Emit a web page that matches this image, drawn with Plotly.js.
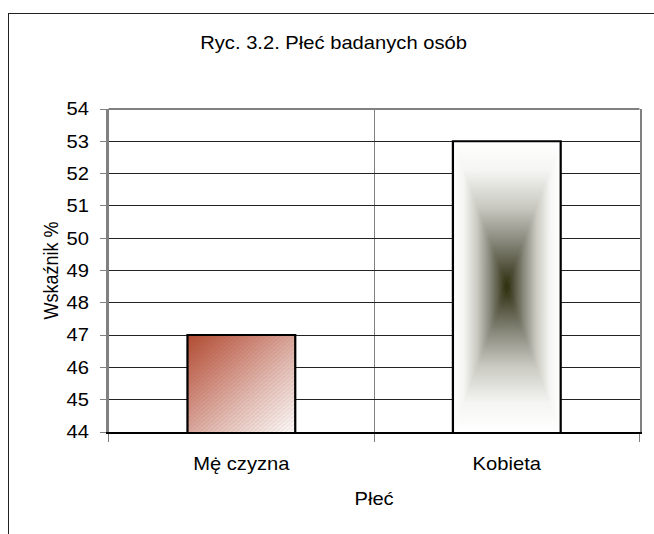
<!DOCTYPE html>
<html>
<head>
<meta charset="utf-8">
<script src="https://cdn.plot.ly/plotly-3.0.1.min.js"></script>
<style>
  html, body { margin:0; padding:0; width:654px; height:534px; overflow:hidden; background:#fff; }
  #wrap { position:absolute; left:0; top:0; width:584px; height:534px; transform:scaleX(1.12); transform-origin:0 0; }
  #frame { position:absolute; left:8px; top:13px; width:700px; height:600px; border:1.5px solid #222; pointer-events:none; z-index:5; }
</style>
</head>
<body>
<div id="wrap"><div id="chart" style="width:584px;height:534px;"></div></div>
<div id="frame"></div>
<script>
// ---- data ----
const categories = ['Mę\u0307 czyzna', 'Kobieta'];
const values = [47, 53];
const yRange = [44, 54];
const chartTitle = 'Ryc. 3.2. Płeć badanych osób';
const xTitle = 'Płeć';
const yTitle = 'Wskaźnik %';

const FONT = '"Liberation Sans", Arial, sans-serif';

const data = [{
  type: 'bar',
  x: categories,
  y: values,
  marker: { color: ['#d9a59a', '#9a9a90'], line: { color: '#000', width: 2 } },
  hoverinfo: 'none'
}];

const layout = {
  width: 584, height: 534,
  margin: { l: 97, r: 13, t: 109, b: 102 },
  paper_bgcolor: '#fff', plot_bgcolor: '#fff',
  font: { family: FONT, size: 18, color: '#000' },
  showlegend: false,
  bargap: 0.594,
  title: { text: chartTitle, font: { family: FONT, size: 18, color: '#000' },
           xref: 'container', x: 0.51, xanchor: 'center', yref: 'container', y: 1 - 43/534, yanchor: 'middle' },
  xaxis: {
    type: 'category',
    tickson: 'boundaries',
    ticks: 'outside', ticklen: 8, tickcolor: '#808080', tickwidth: 1,
    showgrid: true, gridcolor: '#808080', gridwidth: 1,
    showline: true, linecolor: '#000', linewidth: 2,
    tickfont: { family: FONT, size: 18, color: '#000' },
    ticklabelstandoff: 14,
    title: { text: xTitle, font: { family: FONT, size: 18, color: '#000' }, standoff: 20 },
    fixedrange: true
  },
  yaxis: {
    range: yRange, dtick: 1, tick0: 44,
    ticks: 'outside', ticklen: 6, tickcolor: '#808080', tickwidth: 1,
    showgrid: true, gridcolor: '#222', gridwidth: 1,
    showline: true, linecolor: '#808080', linewidth: 2, mirror: true,
    zeroline: false,
    tickfont: { family: FONT, size: 18, color: '#000' },
    ticklabelstandoff: 6,
    title: { text: yTitle, font: { family: FONT, size: 18, color: '#000' }, standoff: 2 },
    fixedrange: true
  },
  shapes: [{
    type: 'line', xref: 'paper', yref: 'paper', x0: 0, x1: 1, y0: 1, y1: 1,
    line: { color: '#808080', width: 2 }, layer: 'above'
  }]
};

Plotly.newPlot('chart', data, layout, { staticPlot: true, displayModeBar: false }).then(gd => {
  const NS = 'http://www.w3.org/2000/svg';
  const sz = gd._fullLayout._size;
  const svg = gd.querySelector('svg.main-svg');
  let defs = svg.querySelector('defs');
  if (!defs) { defs = document.createElementNS(NS, 'defs'); svg.insertBefore(defs, svg.firstChild); }
  const mk = (tag, attrs, parent) => {
    const e = document.createElementNS(NS, tag);
    for (const k in attrs) e.setAttribute(k, attrs[k]);
    if (parent) parent.appendChild(e);
    return e;
  };
  const stops = (g, list) => list.forEach(([o, c]) => mk('stop', { offset: o, 'stop-color': c }, g));
  const boxStops = [[0, '#ffffff'], [0.2, '#f5f5f3'], [0.45, '#cacac2'], [0.68, '#8a8a7e'], [0.87, '#52523c'], [1, '#2a2a08']];

  const paths = gd.querySelectorAll('.trace.bars .point path');
  paths.forEach((p, i) => {
    const b = p.getBBox();
    const x0 = b.x, x1 = b.x + b.width;
    const y0 = Math.max(b.y, 0), y1 = Math.min(b.y + b.height, sz.h);
    const w = x1 - x0, h = y1 - y0;
    if (i === 0) {
      const g = mk('linearGradient', { id: 'barGrad0', gradientUnits: 'userSpaceOnUse', x1: 0, y1: 0, x2: w, y2: h }, defs);
      stops(g, [[0, '#b24d33'], [0.3, '#cc8272'], [0.62, '#e4c0b8'], [1, '#ffffff']]);
      const pat = mk('pattern', { id: 'barPat0', patternUnits: 'userSpaceOnUse', x: x0, y: y0, width: w, height: h }, defs);
      mk('rect', { x: 0, y: 0, width: w, height: h, fill: 'url(#barGrad0)' }, pat);
      const hatch = mk('pattern', { id: 'hatch0', patternUnits: 'userSpaceOnUse', width: 4, height: 4 }, defs);
      mk('path', { d: 'M0,4 L4,0', stroke: 'rgba(120,40,20,0.12)', 'stroke-width': 1 }, hatch);
      mk('rect', { x: 0, y: 0, width: w, height: h, fill: 'url(#hatch0)' }, pat);
      p.style.setProperty('fill', 'url(#barPat0)');
    } else {
      const pat = mk('pattern', { id: 'barPat1', patternUnits: 'userSpaceOnUse', x: x0, y: y0, width: w, height: h }, defs);
      const cx = w / 2, cy = h / 2;
      const tri = [
        { pts: `0,0 ${w},0 ${cx},${cy}`, g: [0, 0, 0, cy] },
        { pts: `0,${h} ${w},${h} ${cx},${cy}`, g: [0, h, 0, cy] },
        { pts: `0,0 0,${h} ${cx},${cy}`, g: [0, 0, cx, 0] },
        { pts: `${w},0 ${w},${h} ${cx},${cy}`, g: [w, 0, cx, 0] }
      ];
      tri.forEach((t, k) => {
        const g = mk('linearGradient', { id: 'box' + k, gradientUnits: 'userSpaceOnUse', x1: t.g[0], y1: t.g[1], x2: t.g[2], y2: t.g[3] }, defs);
        stops(g, boxStops);
        mk('polygon', { points: t.pts, fill: `url(#box${k})`, stroke: `url(#box${k})`, 'stroke-width': 0.6 }, pat);
      });
      p.style.setProperty('fill', 'url(#barPat1)');
    }
  });
});
</script>
</body>
</html>
